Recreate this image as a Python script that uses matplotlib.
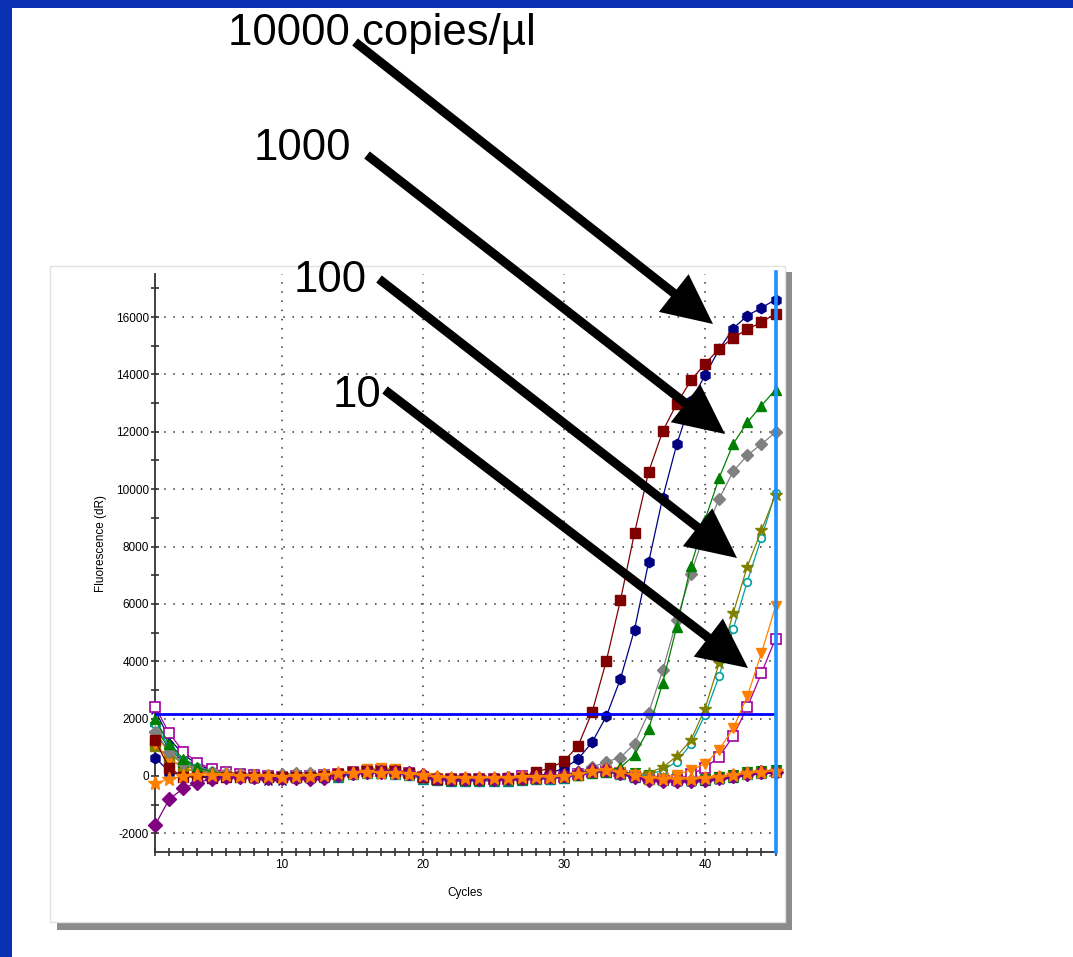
import matplotlib
matplotlib.use('Agg')
import matplotlib.pyplot as plt
from matplotlib.patches import Rectangle, FancyArrow
from matplotlib.path import Path
from matplotlib.ticker import MultipleLocator, FixedLocator

plt.rcParams['font.family'] = ['Liberation Sans', 'DejaVu Sans']
plt.rcParams['axes.unicode_minus'] = False

# ---------------- data ----------------
cycles = list(range(1, 46))

red_sq = [1250, 270, -20, -50, -60, -40, -30, -20, -40, -30,
          -20, -30, 0, 60, 130, 170, 190, 170, 90, -30,
          -110, -120, -120, -110, -100, -80, -60, 150, 270, 520,
          1050, 2240, 4010, 6120, 8470, 10600, 12020, 12980, 13790, 14370,
          14890, 15280, 15570, 15820, 16110]
navy_hex = [640, 150, 0, -20, -30, -20, -40, -60, -120, -90,
            -40, -20, 20, 80, 130, 160, 170, 150, 100, 0,
            -70, -100, -100, -100, -90, -80, -60, -20, 100, 270,
            590, 1180, 2080, 3380, 5100, 7450, 9700, 11570, 13060, 13970,
            14870, 15600, 16050, 16320, 16610]
green_tri = [2000, 1100, 600, 300, 150, 60, 30, 10, -10, -20,
             0, -10, 20, 70, 130, 160, 160, 140, 90, -10,
             -90, -110, -120, -120, -110, -100, -90, -70, -50, -10,
             70, 160, 180, 300, 730, 1630, 3250, 5210, 7330, 8930,
             10390, 11580, 12330, 12910, 13470]
gray_dia = [1550, 850, 450, 250, 150, 120, 80, 50, 30, 80,
            100, 120, 60, 70, 120, 150, 160, 150, 90, -20,
            -70, -90, -100, -110, -100, -90, -90, -60, -30, 50,
            150, 300, 500, 640, 1130, 2200, 3680, 5440, 7050, 8500,
            9660, 10620, 11180, 11570, 11980]
olive_star = [1500, 800, 400, 200, 100, 40, 20, 0, -30, -40,
              -20, -20, 20, 60, 120, 140, 150, 140, 100, 0,
              -80, -90, -100, -110, -100, -100, -90, -80, -60, -20,
              60, 150, 200, 130, 40, 120, 300, 690, 1250, 2350,
              3930, 5680, 7300, 8560, 9810]
teal_open = [1800, 1000, 550, 300, 160, 80, 40, 20, 0, -10,
             0, -10, 20, -40, 80, 130, 150, 140, 90, -20,
             -100, -120, -130, -120, -110, -100, -100, -80, -60, -30,
             40, 130, 170, 100, 0, 50, 200, 500, 1110, 2130,
             3490, 5120, 6780, 8300, 9870]
orange_tri = [1100, 600, 300, 150, 60, 20, 0, -20, -30, -30,
              -20, -10, 20, 80, 150, 250, 280, 250, 120, -10,
              -80, -100, -110, -100, -100, -90, -30, -60, -40, 0,
              70, 160, 200, 150, 50, -30, -60, 50, 210, 420,
              920, 1660, 2780, 4280, 5910]
purple_open = [2420, 1490, 850, 470, 250, 150, 80, 40, 0, -20,
               0, -10, 20, 70, 140, 180, 200, 180, 100, -20,
               -100, -110, -120, -110, -100, -90, 0, -80, -60, -20,
               60, 150, 180, 110, 10, -80, -120, -130, 60, 280,
               670, 1390, 2400, 3580, 4790]
purple_dia = [-1710, -810, -430, -230, -100, -50, -30, -40, -60, -80,
              -60, -100, -60, 50, 120, 130, 150, 140, 110, 20,
              -60, -90, -100, -100, -90, -80, -70, -40, 0, 50,
              100, 200, 220, 120, -50, -130, -170, -180, -170, -150,
              -80, -10, 80, 130, 150]
orange_star = [-250, -110, 0, 20, 30, 20, 10, 0, -10, -20,
               0, 10, 40, 90, 110, 130, 120, 100, 80, 20,
               -40, -60, -70, -70, -60, -60, -50, -40, -20, 0,
               70, 170, 200, 130, 20, -60, -90, -100, -90, -80,
               -40, 20, 100, 150, 180]
teal_tri = [1900, 1150, 620, 320, 170, 80, 50, 30, 10, 0,
            10, 0, -30, -40, 60, 100, 120, 80, 20, -100,
            -150, -180, -190, -180, -170, -160, -150, -120, -100, -60,
            20, 110, 150, 80, -20, -100, -140, -150, -150, -130,
            -80, -20, 60, 110, 140]
olive_sq = [1050, 620, 270, 130, 60, 30, 10, -10, -20, -30,
            -20, -30, 0, 50, 100, 130, 200, 180, 90, -20,
            -90, -110, -110, -100, -100, -100, -100, -70, -40, 0,
            50, 150, 190, 100, -10, -90, -110, -120, -110, -100,
            -50, 10, 90, 140, 170]
navy_x = [2300, 1300, 750, 400, 200, 90, 0, -100, -170, -160,
          -90, -40, 0, 40, 90, 120, 130, 120, 60, -40,
          -100, -120, -130, -120, -110, -110, -100, -80, -60, -30,
          40, 120, 150, 60, -60, -150, -180, -200, -200, -190,
          -130, -60, 30, 80, 100]
green_hg = [1700, 950, 500, 250, 120, 60, 20, 0, -20, -20,
            0, 10, 30, 80, 140, 230, 250, 230, 120, -20,
            -100, -130, -140, -130, -120, -100, -80, -60, -50, -20,
            40, 110, 130, 150, 110, 50, -80, -50, -80, -100,
            -20, 40, 130, 180, 200]

threshold = 2150
y_major = [-2000, 0, 2000, 4000, 6000, 8000, 10000, 12000, 14000, 16000]
x_major = [10, 20, 30, 40]

labels = ['10000 copies/µl', '1000', '100', '10']

# ---------------- figure ----------------
W, H = 1073, 957
fig = plt.figure(figsize=(W / 100, H / 100), dpi=100, facecolor='#0a30b4')

bg = fig.add_axes([0, 0, 1, 1], zorder=0)
bg.set_xlim(0, W); bg.set_ylim(H, 0); bg.axis('off')
bg.add_patch(Rectangle((12, 8), W - 12, H - 8, fc='white', ec='none'))
bg.add_patch(Rectangle((57, 272), 735, 658, fc='#8c8c8c', ec='none'))
bg.add_patch(Rectangle((50, 266), 735, 656, fc='white', ec='#e2e2e2', lw=1))

ax = fig.add_axes([155.1 / W, (H - 852.3) / H, 620.4 / W, (852.3 - 274) / H], zorder=1)
ax.set_facecolor('none')
ax.set_xlim(1, 45)
ax.set_ylim(-2660, 17500)

hg_path = Path([(-1, 1), (1, 1), (0, 0), (-1, 1), (0, 0), (1, -1), (-1, -1), (0, 0)],
               [Path.MOVETO, Path.LINETO, Path.LINETO, Path.CLOSEPOLY,
                Path.MOVETO, Path.LINETO, Path.LINETO, Path.CLOSEPOLY])

series = [
    (teal_tri, '#008080', '^', 7.5, True),
    (olive_sq, '#808000', 's', 6.5, True),
    (navy_x, '#000080', 'x', 6, True),
    (green_hg, '#008000', hg_path, 7, True),
    (purple_open, '#a000a0', 's', 6.5, False),
    (orange_tri, '#ff8000', 'v', 7.5, True),
    (teal_open, '#00a0a0', 'o', 5.5, False),
    (olive_star, '#808000', '*', 9, True),
    (gray_dia, '#808080', 'D', 6, True),
    (green_tri, '#008000', '^', 7.5, True),
    (navy_hex, '#000080', 'h', 7.5, True),
    (red_sq, '#800000', 's', 6.5, True),
    (purple_dia, '#800080', 'D', 7, True),
    (orange_star, '#ff8000', '*', 10, True),
]
for vals, col, mk, ms, filled in series:
    ax.plot(cycles, vals, color=col, lw=0.9, marker=mk, ms=ms,
            mfc=col if filled else 'white', mec=col, mew=1.0 if filled else 1.2,
            clip_on=False, zorder=3)

ax.axhline(threshold, color='#0000ff', lw=2.0, zorder=4)
ax.axvline(45, color='#1e8fff', lw=2.6, ymin=0, ymax=1.004, clip_on=False, zorder=4)

ax.yaxis.set_major_locator(FixedLocator(y_major))
ax.yaxis.set_minor_locator(MultipleLocator(1000))
ax.xaxis.set_major_locator(FixedLocator(x_major))
ax.xaxis.set_minor_locator(MultipleLocator(1))
ax.grid(True, which='major', linestyle=(0, (1, 5)), color='#333333', lw=1.1, zorder=0)
for s in ['top', 'right']:
    ax.spines[s].set_visible(False)
for s in ['left', 'bottom']:
    ax.spines[s].set_color('#333333')
    ax.spines[s].set_linewidth(1.3)
ax.tick_params(which='both', direction='inout', length=6, width=1.2, color='#333333',
               labelsize=8.5, pad=1.5)

fig.text(101 / W, 1 - 543 / H, 'Fluorescence (dR)', rotation=90, ha='center', va='center',
         fontsize=8.5)
fig.text(465 / W, 1 - 893 / H, 'Cycles', ha='center', va='center', fontsize=8.5)

# ---------------- annotations ----------------
ov = fig.add_axes([0, 0, 1, 1], zorder=3)
ov.set_xlim(0, W); ov.set_ylim(H, 0); ov.axis('off')
ov.patch.set_alpha(0)

text_pos = [(228, 45), (254, 160), (294, 292), (333, 407)]
for (tx, ty), lab in zip(text_pos, labels):
    ov.text(tx, ty, lab, fontsize=31.5, ha='left', va='baseline', color='black')

arrows = [((355, 42), (713, 324)), ((367, 155), (725, 434)),
          ((379, 279), (737, 558)), ((385, 390), (748, 668))]
for (x0, y0), (x1, y1) in arrows:
    ov.add_patch(FancyArrow(x0, y0, x1 - x0, y1 - y0, width=9, head_width=48,
                            head_length=50, length_includes_head=True,
                            fc='black', ec='none'))

fig.savefig('out.png', dpi=100, facecolor=fig.get_facecolor())
